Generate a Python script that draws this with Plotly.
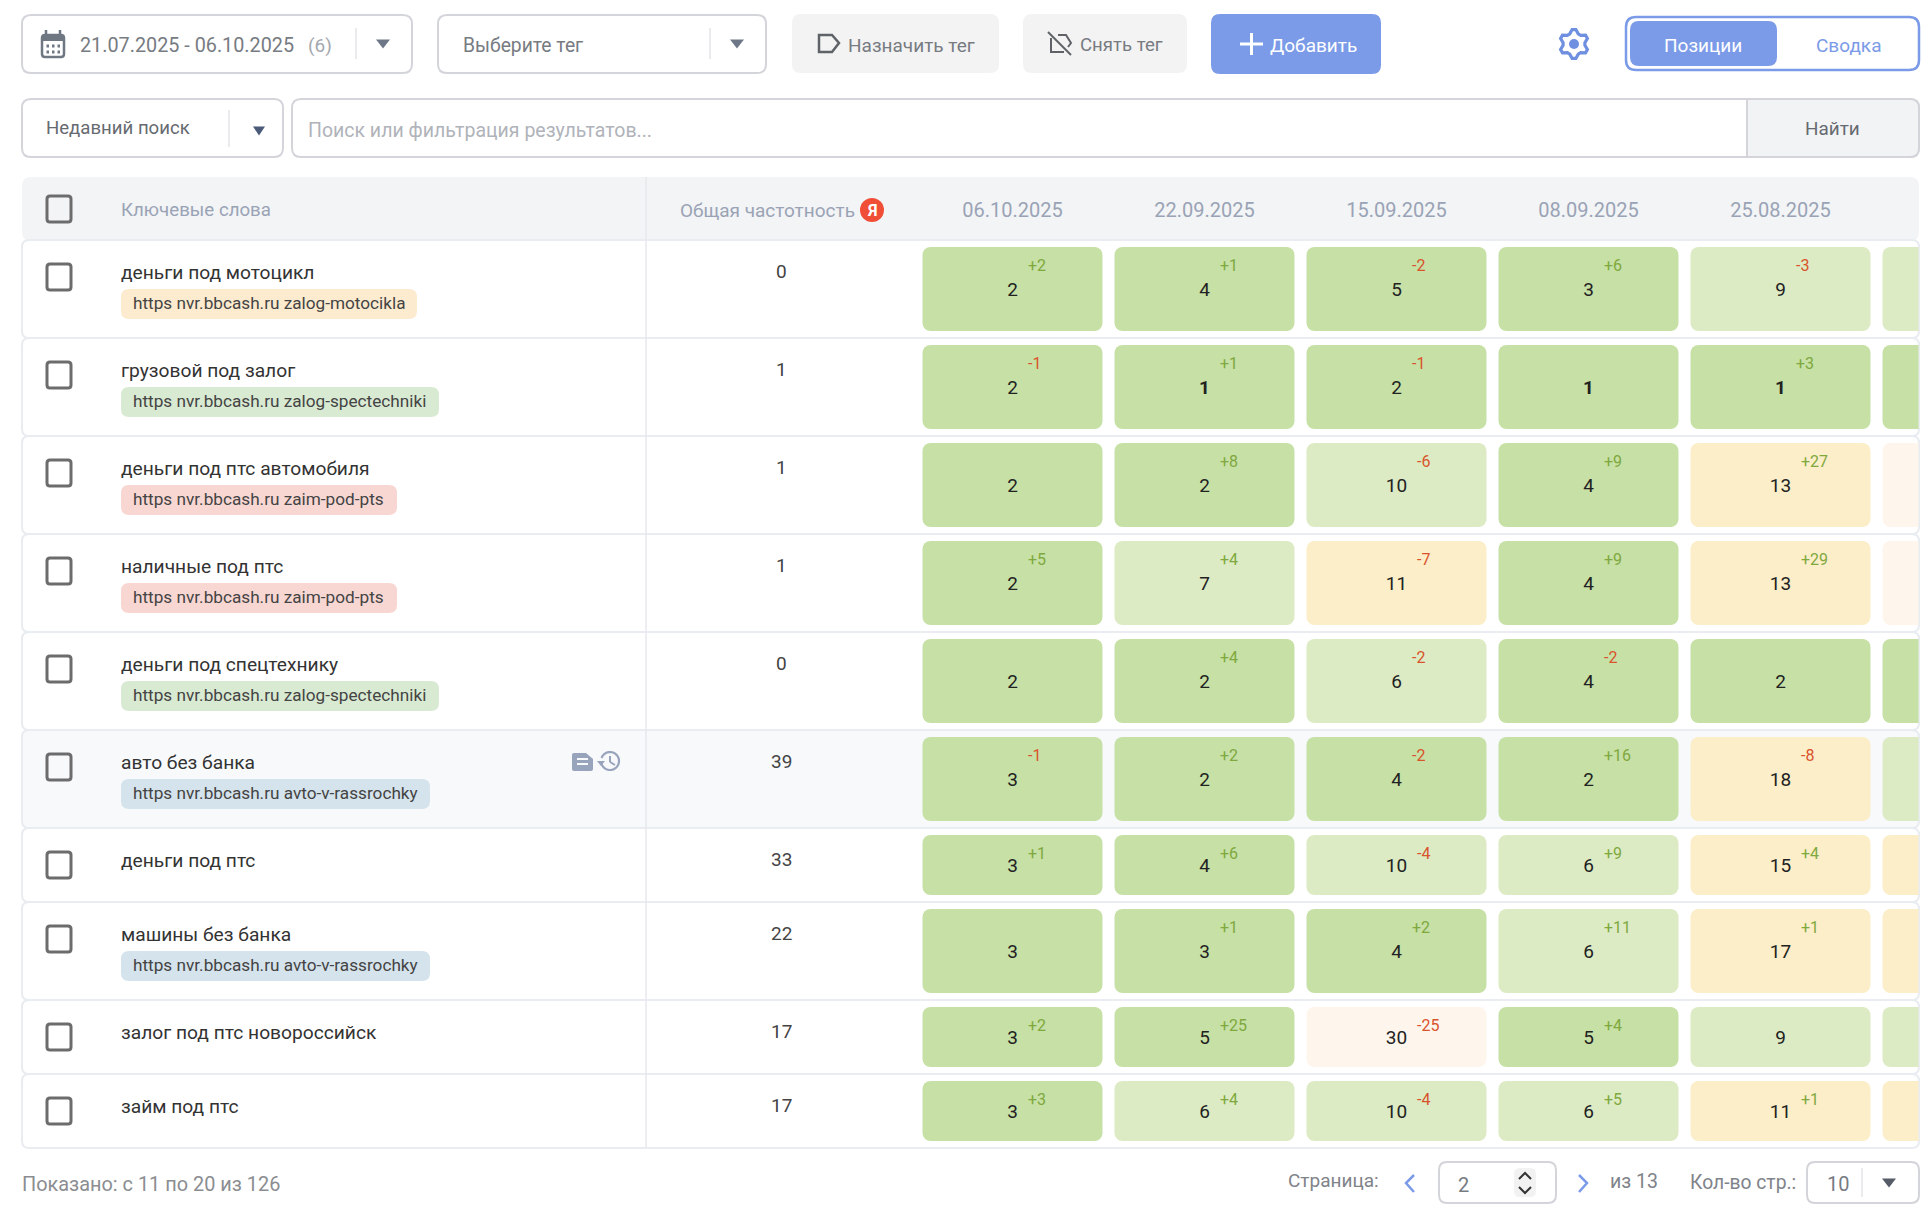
import math
import plotly.graph_objects as go

# ---------- data ----------
dates = ["06.10.2025", "22.09.2025", "15.09.2025", "08.09.2025", "25.08.2025", "21.07.2025"]
keywords = ["деньги под мотоцикл", "грузовой под залог", "деньги под птс автомобиля", "наличные под птс",
            "деньги под спецтехнику", "авто без банка", "деньги под птс", "машины без банка",
            "залог под птс новороссийск", "займ под птс"]
tags = ["https nvr.bbcash.ru zalog-motocikla", "https nvr.bbcash.ru zalog-spectechniki",
        "https nvr.bbcash.ru zaim-pod-pts", "https nvr.bbcash.ru zaim-pod-pts",
        "https nvr.bbcash.ru zalog-spectechniki", "https nvr.bbcash.ru avto-v-rassrochky", None,
        "https nvr.bbcash.ru avto-v-rassrochky", None, None]
frequency = [0, 1, 1, 1, 0, 39, 33, 22, 17, 17]
positions = [
    [2, 4, 5, 3, 9, 6], [2, 1, 2, 1, 1, 4], [2, 2, 10, 4, 13, 40], [2, 7, 11, 4, 13, 42], [2, 2, 6, 4, 2, 2],
    [3, 2, 4, 2, 18, 10], [3, 4, 10, 6, 15, 19], [3, 3, 4, 6, 17, 18], [3, 5, 30, 5, 9, 9], [3, 6, 10, 6, 11, 12],
]
deltas = [
    [2, 1, -2, 6, -3, None], [-1, 1, -1, None, 3, None], [None, 8, -6, 9, 27, None], [5, 4, -7, 9, 29, None],
    [None, 4, -2, -2, None, None], [-1, 2, -2, 16, -8, None], [1, 6, -4, 9, 4, None],
    [None, 1, 2, 11, 1, None], [2, 25, -25, 4, None, None], [3, 4, -4, 5, 1, None],
]

# ---------- style ----------
FONT = "Roboto"
W, H = 1932, 1218
BLUE = "#7b9be8"
BORDER = "#d3d5da"
GREY_TXT = "#777b82"
MUTED = "#9aa3b5"
TAG_STYLE = {"zalog-motocikla": ("#fdebcf", 296), "zalog-spectechniki": ("#d9ead3", 318),
             "zaim-pod-pts": ("#f8d7d3", 276), "avto-v-rassrochky": ("#d5e3ec", 309)}


def cell_colour(v):
    return "#c6e0a5" if v <= 5 else "#dcebc4" if v <= 10 else "#fbeec8" if v <= 20 else "#fef5ec"


shapes, notes = [], []


def path(d, fill=None, line=None, lw=0, layer="below"):
    s = dict(type="path", path=d, xref="x", yref="y", layer=layer, line=dict(width=lw, color=line or "rgba(0,0,0,0)"))
    if fill:
        s["fillcolor"] = fill
    shapes.append(s)


def rr(x0, y0, x1, y1, r, **kw):
    d = (f"M{x0+r},{y0} L{x1-r},{y0} Q{x1},{y0} {x1},{y0+r} L{x1},{y1-r} Q{x1},{y1} {x1-r},{y1} "
         f"L{x0+r},{y1} Q{x0},{y1} {x0},{y1-r} L{x0},{y0+r} Q{x0},{y0} {x0+r},{y0} Z")
    path(d, **kw)


def seg(x0, y0, x1, y1, color, lw=1.5, layer="below"):
    shapes.append(dict(type="line", x0=x0, y0=y0, x1=x1, y1=y1, xref="x", yref="y", layer=layer,
                       line=dict(color=color, width=lw)))


def circle(cx, cy, r, fill=None, line=None, lw=0):
    s = dict(type="circle", x0=cx-r, x1=cx+r, y0=cy-r, y1=cy+r, xref="x", yref="y", layer="below",
             line=dict(width=lw, color=line or "rgba(0,0,0,0)"))
    if fill:
        s["fillcolor"] = fill
    shapes.append(s)


def label(x, y, t, size=19, color="#333", anchor="left", xref="x", xshift=0):
    if anchor == "left" and xref == "x":
        x -= 1.2
    notes.append(dict(x=x, y=y, text=t, xref=xref, yref="y", xanchor=anchor, yanchor="middle", showarrow=False,
                      xshift=xshift, borderpad=0, font=dict(family=FONT, size=size, color=color)))


def triangle(cx, cy, c="#6e7787", w=7, h=9):
    path(f"M{cx-w},{cy-h/2} L{cx+w},{cy-h/2} L{cx},{cy+h/2} Z", fill=c)


def checkbox(y):
    rr(47, y, 71, y + 26, 3, line="#6c6c6c", lw=3, fill="rgba(255,255,255,0)")


# ---------- toolbar ----------
rr(22, 15, 412, 73, 9, line=BORDER, lw=2, fill="#fff")
rr(42, 35, 64, 57, 3, line="#6f7782", lw=2.5)
path("M42,35 L64,35 L64,41 L42,41 Z", fill="#6f7782")
seg(46, 30, 46, 36, "#6f7782", 2.5)
seg(60, 30, 60, 36, "#6f7782", 2.5)
for yy in (46, 52):
    for xx in (46.5, 52, 57.5):
        seg(xx, yy, xx + 2.5, yy, "#6f7782", 3)
label(80, 45, "21.07.2025 - 06.10.2025", 19.8, GREY_TXT)
label(308, 45, "(6)", 19, "#a4a8ae")
seg(356, 28, 356, 59, "#e4e5e8")
triangle(383, 44)

rr(438, 15, 766, 73, 9, line=BORDER, lw=2, fill="#fff")
label(463, 45, "Выберите тег", 19.3, GREY_TXT)
seg(710, 28, 710, 59, "#e4e5e8")
triangle(737, 44)

rr(792, 14, 999, 73, 9, fill="#f3f3f3")
path("M819,35 L832,35 L839,43 L832,52 L819,52 Z", line="#5f6368", lw=2.5)
label(848, 45, "Назначить тег", 19, GREY_TXT)
rr(1023, 14, 1187, 73, 9, fill="#f3f3f3")
path("M1051,38 L1051,52 L1064,52", line="#5f6368", lw=2)
path("M1058,35 L1066,35 L1071,43 L1068,47", line="#5f6368", lw=2)
seg(1048, 32, 1071, 55, "#5f6368", 2)
label(1080, 45, "Снять тег", 18.6, GREY_TXT)
rr(1211, 14, 1381, 74, 9, fill=BLUE)
seg(1240, 44, 1263, 44, "#fff", 3)
seg(1251.5, 33, 1251.5, 55, "#fff", 3)
label(1270, 45, "Добавить", 19, "#ffffff")

teeth = 6
pts = []
for i in range(teeth * 4):
    a = math.pi * 2 * (i - 0.5) / (teeth * 4) - math.pi / 2
    rad = 14.5 if i % 4 in (0, 1) else 11
    pts.append((1574 + rad * math.cos(a), 44 + rad * math.sin(a)))
path("M" + " L".join(f"{px:.1f},{py:.1f}" for px, py in pts) + " Z", line="#6f8fe0", lw=3.2)
circle(1574, 44, 5, fill="#6f8fe0")

rr(1626, 17, 1919, 70, 10, line=BLUE, lw=2.5, fill="#fff")
rr(1630, 21, 1777, 66, 9, fill=BLUE)
label(1703, 45, "Позиции", 19, "#ffffff", "center")
label(1848, 45, "Сводка", 19, BLUE, "center")

# ---------- search ----------
rr(22, 99, 283, 157, 9, line=BORDER, lw=2, fill="#fff")
label(46, 128, "Недавний поиск", 18.6, "#666a70")
seg(229, 110, 229, 147, "#e4e5e8")
triangle(259, 131, "#4a5a78", 6, 9)
rr(292, 99, 1919, 157, 9, line=BORDER, lw=2, fill="#fff")
label(308, 130, "Поиск или фильтрация результатов...", 19.5, "#b0b3ba")
rr(1747, 99, 1919, 157, 9, line=BORDER, lw=2, fill="#f2f3f5")
path("M1748,100 L1760,100 L1760,156 L1748,156 Z", fill="#f2f3f5")
seg(1747, 99, 1747, 157, BORDER, 2)
label(1832, 128, "Найти", 18.9, "#666a70", "center")

# ---------- table header ----------
rr(22, 177, 1919, 241, 9, fill="#f2f4f6")
checkbox(196)
label(121, 209.5, "Ключевые слова", 18.7, MUTED)
label(680, 210, "Общая частотность", 19, MUTED)
circle(872, 210, 12, fill="#f04e37")
label(872, 210, "<b>Я</b>", 16, "#ffffff", "center")

# ---------- rows ----------
TALL, SHORT, TALL_CELL, SHORT_CELL, TOP0 = 98, 74, 84, 60, 247
row_top, row_cell = [], []
y = TOP0
for t in tags:
    row_top.append(y)
    row_cell.append(TALL_CELL if t else SHORT_CELL)
    y += TALL if t else SHORT

for i, kw in enumerate(keywords):
    top, ch = row_top[i], row_cell[i]
    rr(22, top - 7, 1919, top + ch + 7, 7, line="#e9ecf0", lw=2,
       fill="#f7f9fb" if kw == "авто без банка" else "#ffffff")
    checkbox(top + 17)
    label(121, top + 25, kw, 19.2, "#333333")
    label(781, top + 24.5, str(frequency[i]), 19, "#444444", "center")
    if tags[i]:
        col, w = TAG_STYLE[tags[i].split()[-1]]
        rr(121, top + 42, 121 + w, top + 72, 8, fill=col)
        label(133, top + 56, tags[i], 17.2, "#444444")
    if kw == "авто без банка":
        path(f"M572,{top+18} Q572,{top+16} 574,{top+16} L586,{top+16} L593,{top+22} L593,{top+32} "
             f"Q593,{top+34} 591,{top+34} L574,{top+34} Q572,{top+34} 572,{top+32} Z", fill="#98a3bc")
        for d in (22, 27):
            seg(577, top + d, 588, top + d, "#f7f9fb", 2)
        arc = [(610 + 9 * math.cos(math.radians(a)), top + 24 + 9 * math.sin(math.radians(a)))
               for a in range(-160, 171, 15)]
        path("M" + " L".join(f"{px:.1f},{py:.1f}" for px, py in arc), line="#98a3bc", lw=2.2)
        path(f"M597,{top+24} L605,{top+24} L601,{top+29} Z", fill="#98a3bc")
        seg(610, top + 19, 610, top + 25, "#98a3bc", 2)
        seg(610, top + 25, 615, top + 28, "#98a3bc", 2)
    for c, d in enumerate(deltas[i]):
        if d is None:
            continue
        num = str(positions[i][c])
        label(c, top + 18, f"{d:+d}", 16, "#7fa83e" if d > 0 else "#d9532c", xref="x2",
              xshift=5 * len(num) + 9)
seg(646, 177, 646, 1148, "#e6e8ec", 1.5)

# grid marks drawn from the data
xs, ys, heights, colours, base = [], [], [], [], []
txt_x, txt_y, txt = [], [], []
for i, row in enumerate(positions):
    for c, v in enumerate(row):
        xs.append(dates[c])
        base.append(row_top[i])
        heights.append(row_cell[i])
        colours.append(cell_colour(v))
        if c < 5:
            txt_x.append(dates[c])
            txt_y.append(row_top[i] + (44 if row_cell[i] == TALL_CELL else 32))
            bold = v == 1 and i == 1
            txt.append(f"<b>{v}</b>" if bold else str(v))

PITCH, CELL_W, FIRST_C, CLIP = 192, 180, 1012.5, 1918.5
left_px = FIRST_C - PITCH / 2

fig = go.Figure()
fig.add_trace(go.Bar(x=xs, y=heights, base=base, width=CELL_W / PITCH, xaxis="x2", yaxis="y",
                     marker=dict(color=colours, cornerradius=8, line=dict(width=0)), hoverinfo="skip"))
fig.add_trace(go.Scatter(x=txt_x, y=txt_y, text=txt, mode="text", xaxis="x2", yaxis="y", hoverinfo="skip",
                         textposition="middle center", textfont=dict(family=FONT, size=19, color="#222222")))

# ---------- footer ----------
label(22, 1184, "Показано: с 11 по 20 из 126", 19.9, "#8b8d91")
label(1288, 1180, "Страница:", 19, "#808389")
path("M1414,1175 L1406,1183 L1414,1192", line=BLUE, lw=2.5)
rr(1439, 1162, 1556, 1203, 8, line=BORDER, lw=2, fill="#fff")
label(1463, 1185, "2", 20, GREY_TXT, "center")
rr(1514, 1168, 1536, 1197, 6, fill="#f2f2f2")
path("M1519,1179 L1525,1173 L1531,1179", line="#333", lw=2)
path("M1519,1187 L1525,1193 L1531,1187", line="#333", lw=2)
path("M1579,1175 L1587,1183 L1579,1192", line=BLUE, lw=2.5)
label(1610, 1181, "из 13", 19.5, "#808389")
label(1690, 1182, "Кол-во стр.:", 19.3, "#808389")
rr(1807, 1162, 1919, 1203, 8, line=BORDER, lw=2, fill="#fff")
label(1838, 1184, "10", 20, GREY_TXT, "center")
seg(1862, 1168, 1862, 1197, "#e4e5e8")
triangle(1889, 1183, "#555c68", 7, 9)

fig.update_layout(
    width=W, height=H, autosize=False, margin=dict(l=0, r=0, t=0, b=0, pad=0), showlegend=False,
    paper_bgcolor="#ffffff", plot_bgcolor="rgba(0,0,0,0)", shapes=shapes, annotations=notes,
    xaxis=dict(range=[0, W], domain=[0, 1], visible=False, fixedrange=True),
    yaxis=dict(range=[H, 0], domain=[0, 1], visible=False, fixedrange=True),
    xaxis2=dict(type="category", categoryorder="array", categoryarray=dates,
                range=[-0.5, (CLIP - FIRST_C) / PITCH], domain=[left_px / W, CLIP / W],
                anchor="free", position=1 - 221 / H, side="top", showgrid=False, showline=False,
                zeroline=False, ticks="", tickfont=dict(family=FONT, size=20, color=MUTED), fixedrange=True),
)
fig.write_html("out.html", config=dict(displayModeBar=False),
               post_script="document.body.style.margin='0';document.body.style.overflow='hidden';")
